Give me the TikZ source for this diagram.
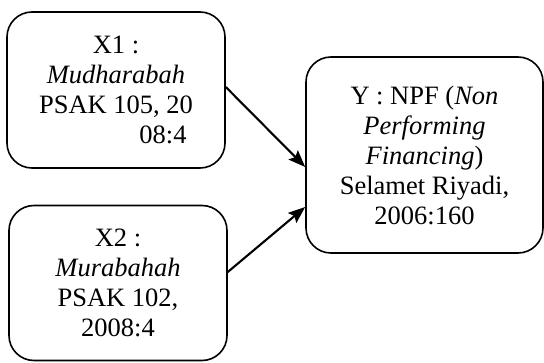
\documentclass[tikz,border=0pt]{standalone}
\usepackage{fontspec}
\setmainfont{Liberation Serif}
\usetikzlibrary{arrows.meta,calc}
\begin{document}
\begin{tikzpicture}[x=1pt,y=1pt,
  box/.style={draw=black,line width=1.6pt,rounded corners=25pt,align=center,
    font=\fontsize{26.5}{30}\selectfont,inner sep=0pt},
  conn/.style={line width=2.1pt,-{Stealth[length=17pt,width=13pt,inset=3pt]}}]
\useasboundingbox (0,0) rectangle (544,362);
\node[box,minimum width=218pt,minimum height=156pt] (x1) at (116,272)
  {X1 :\\ \textit{Mudharabah}\\ PSAK 105, 20\\ \hspace*{94pt}08:4};
\node[box,minimum width=218pt,minimum height=155pt] (x2) at (118,79)
  {X2 :\\ \textit{Murabahah}\\ PSAK 102,\\ 2008:4};
\node[box,minimum width=237pt,minimum height=196pt] (y) at (424.5,207)
  {Y : NPF (\textit{Non}\\ \textit{Performing}\\ \textit{Financing})\\ Selamet Riyadi,\\ 2006:160};
\draw[conn] ($(x1.east)+(0,3)$) -- ($(y.west)+(0,-12)$);
\draw[conn] ($(x2.east)+(0,11)$) -- ($(y.west)+(0,-52)$);
\end{tikzpicture}
\end{document}
